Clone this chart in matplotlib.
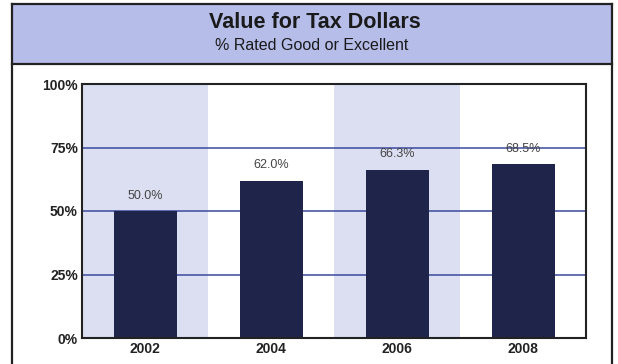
import matplotlib.pyplot as plt
from matplotlib.patches import Rectangle
from matplotlib.lines import Line2D

years = ["2002", "2004", "2006", "2008"]
values = [50.0, 62.0, 66.3, 68.5]
labels = ["50.0%", "62.0%", "66.3%", "68.5%"]
yticks = [0, 25, 50, 75, 100]

plt.rcParams['font.family'] = ['Liberation Sans', 'DejaVu Sans']

W, H = 618, 364
fig = plt.figure(figsize=(W / 100, H / 100), dpi=100)

# header band and outer frame
fig.patches.append(Rectangle((12 / W, 1 - 64 / H), 600 / W, 60 / H,
                             transform=fig.transFigure, facecolor="#b6bde9",
                             edgecolor="none", zorder=0))
for x0, y0, x1, y1 in [(12, 4, 612, 4), (12, 64, 612, 64), (12, 4, 12, 364), (612, 4, 612, 364)]:
    fig.lines.append(Line2D([x0 / W, x1 / W], [1 - y0 / H, 1 - y1 / H],
                            transform=fig.transFigure, color="#222222", lw=1.6))

fig.text(315 / W, 1 - 23 / H, "Value for Tax Dollars", ha="center", va="center",
         fontsize=15.5, fontweight="bold", color="#1a1a1a")
fig.text(312 / W, 1 - 45 / H, "% Rated Good or Excellent", ha="center", va="center",
         fontsize=11.5, color="#1a1a1a")

ax = fig.add_axes([82 / W, 1 - 338 / H, (586 - 82) / W, (338 - 84) / H])
x = list(range(len(years)))

# alternating shaded columns
for i in x:
    if i % 2 == 0:
        ax.axvspan(i - 0.5, i + 0.5, color="#dcdff1", zorder=0, lw=0)

for yv in [25, 50, 75]:
    ax.axhline(yv, color="#3b4a9e", lw=1.1, zorder=1)

ax.bar(x, values, width=0.5, color="#1f254a", zorder=2)
for i, v in enumerate(values):
    ax.text(i, v + 6, labels[i], ha="center", va="center", fontsize=9,
            color="#444444", zorder=3)

ax.set_xlim(-0.5, len(years) - 0.5)
ax.set_ylim(0, 100)
ax.set_yticks(yticks)
ax.set_yticklabels([f"{t}%" for t in yticks], fontsize=10, fontweight="bold", color="#222222")
ax.set_xticks(x)
ax.set_xticklabels(years, fontsize=10, fontweight="bold", color="#222222")
ax.tick_params(length=0, pad=3)
for s in ax.spines.values():
    s.set_color("#222222")
    s.set_linewidth(1.5)

fig.savefig("out.png", dpi=100)
